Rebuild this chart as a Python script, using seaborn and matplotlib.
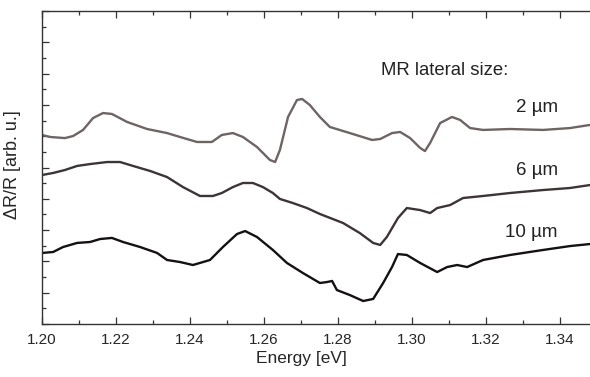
import numpy as np
import pandas as pd
import matplotlib
matplotlib.use("Agg")
import matplotlib.pyplot as plt
from matplotlib.ticker import MultipleLocator, NullFormatter
import seaborn as sns

# values (energy in eV, dR/R in arbitrary units)
energy_2um = [1.2000, 1.2022, 1.2062, 1.2084, 1.2111, 1.2138, 1.2165, 1.2189, 1.2230, 1.2284,
              1.2338, 1.2373, 1.2419, 1.2459, 1.2486, 1.2516, 1.2543, 1.2581, 1.2616, 1.2630,
              1.2643, 1.2665, 1.2689, 1.2703, 1.2724, 1.2751, 1.2778, 1.2832, 1.2892, 1.2914,
              1.2946, 1.2968, 1.2995, 1.3022, 1.3035, 1.3049, 1.3076, 1.3108, 1.3130, 1.3157,
              1.3192, 1.3265, 1.3354, 1.3427, 1.3481]
signal_2um = [12.08, 11.95, 11.88, 12.01, 12.40, 13.16, 13.48, 13.42, 12.91, 12.46,
              12.20, 11.95, 11.63, 11.63, 12.08, 12.20, 11.95, 11.31, 10.48, 10.35,
              11.12, 13.23, 14.31, 14.38, 13.99, 13.23, 12.59, 12.20, 11.76, 11.82,
              12.20, 12.27, 11.88, 11.25, 11.05, 11.57, 12.84, 13.23, 13.04, 12.52,
              12.40, 12.46, 12.40, 12.52, 12.72]

energy_6um = [1.2000, 1.2030, 1.2062, 1.2095, 1.2130, 1.2176, 1.2211, 1.2246, 1.2292, 1.2338,
              1.2381, 1.2427, 1.2462, 1.2486, 1.2516, 1.2543, 1.2570, 1.2597, 1.2624, 1.2643,
              1.2678, 1.2716, 1.2751, 1.2814, 1.2859, 1.2895, 1.2914, 1.2932, 1.2962, 1.2986,
              1.3022, 1.3049, 1.3068, 1.3103, 1.3138, 1.3192, 1.3265, 1.3354, 1.3427, 1.3481]
signal_6um = [9.52, 9.65, 9.84, 10.10, 10.22, 10.35, 10.35, 10.10, 9.78, 9.39,
              8.75, 8.18, 8.18, 8.37, 8.75, 9.01, 9.01, 8.75, 8.37, 7.99,
              7.73, 7.41, 7.03, 6.45, 5.81, 5.18, 5.05, 5.56, 6.77, 7.41,
              7.28, 7.09, 7.41, 7.60, 8.05, 8.18, 8.37, 8.56, 8.69, 8.88]

energy_10um = [1.2000, 1.2030, 1.2057, 1.2095, 1.2130, 1.2157, 1.2189, 1.2219, 1.2265, 1.2311,
               1.2338, 1.2373, 1.2408, 1.2454, 1.2489, 1.2527, 1.2549, 1.2581, 1.2624, 1.2662,
               1.2705, 1.2751, 1.2770, 1.2784, 1.2797, 1.2832, 1.2868, 1.2895, 1.2922, 1.2946,
               1.2962, 1.2986, 1.3022, 1.3068, 1.3095, 1.3122, 1.3149, 1.3192, 1.3265, 1.3354,
               1.3427, 1.3481]
signal_10um = [4.54, 4.60, 4.92, 5.18, 5.24, 5.43, 5.50, 5.24, 4.92, 4.54,
               4.09, 3.96, 3.77, 4.09, 4.92, 5.75, 5.94, 5.56, 4.73, 3.90,
               3.26, 2.62, 2.68, 2.75, 2.17, 1.85, 1.47, 1.60, 2.62, 3.64,
               4.47, 4.41, 3.90, 3.32, 3.64, 3.77, 3.64, 4.09, 4.41, 4.73,
               4.98, 5.11]

sizes = ["2 µm", "6 µm", "10 µm"]
colors = ["#6f6464", "#3d3535", "#161111"]

frames = []
for size, e, s in zip(sizes, [energy_2um, energy_6um, energy_10um],
                      [signal_2um, signal_6um, signal_10um]):
    frames.append(pd.DataFrame({"energy": e, "signal": s, "size": size}))
df = pd.concat(frames, ignore_index=True)

sns.set_style("ticks")
plt.rcParams["font.family"] = ["Liberation Sans", "DejaVu Sans"]

fig = plt.figure(figsize=(5.9, 3.77), dpi=100)
ax = fig.add_axes([42 / 590, 1 - 324 / 377, 548 / 590, 313 / 377])

sns.lineplot(data=df, x="energy", y="signal", hue="size", palette=colors,
             linewidth=1.7, legend=False, ax=ax, sort=False, estimator=None)
for line in ax.get_lines():
    line.set_solid_joinstyle("round")

ax.set_xlim(1.20, 1.20 + 548 / 3700)
ax.set_ylim(0, 20)
ax.xaxis.set_major_locator(MultipleLocator(0.02))
ax.xaxis.set_minor_locator(MultipleLocator(0.01))
ax.xaxis.set_major_formatter(matplotlib.ticker.FormatStrFormatter("%.2f"))
ax.yaxis.set_major_locator(MultipleLocator(2))
ax.yaxis.set_minor_locator(MultipleLocator(1))
ax.yaxis.set_major_formatter(NullFormatter())

ax.tick_params(which="both", direction="in", top=True, right=False, width=0.9,
               color="#333333", labelsize=11, pad=6.5)
ax.tick_params(which="major", length=5)
ax.tick_params(which="minor", length=2.8)
for side in ["left", "bottom", "top"]:
    ax.spines[side].set_linewidth(1.0)
    ax.spines[side].set_color("#333333")
ax.spines["right"].set_visible(False)

ax.set_xlabel("Energy [eV]", fontsize=12.5)
ax.set_ylabel("ΔR/R [arb. u.]", fontsize=13)
ax.xaxis.set_label_coords((301 - 42) / 548, -0.085)
ax.yaxis.set_label_coords(-0.038, 0.508)

ax.text(0.7345, 0.8115, "MR lateral size:", transform=ax.transAxes,
        ha="center", va="center", fontsize=13.3, color="#222222")
label_y = [0.693, 0.492, 0.291]
for size, yy in zip(sizes, label_y):
    ax.text(0.9416, yy, size, transform=ax.transAxes, ha="right", va="center",
            fontsize=13.5, color="#222222")

fig.savefig("out.png", dpi=100)
